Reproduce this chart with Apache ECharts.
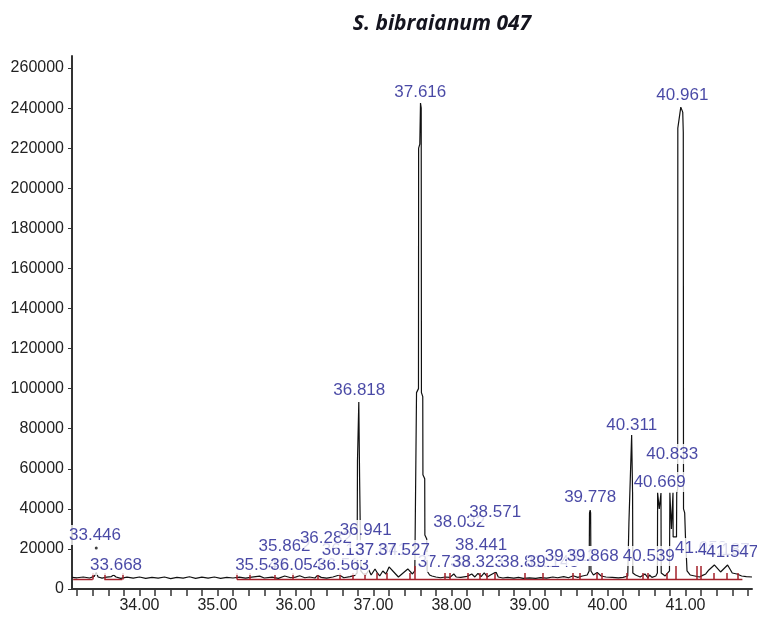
<!DOCTYPE html>
<html><head><meta charset="utf-8">
<script src="https://cdn.jsdelivr.net/npm/echarts@6/dist/echarts.min.js"></script>
<style>html,body{margin:0;padding:0;background:#fff}#c{width:757px;height:618px}</style>
</head><body><div id="c"></div>
<script>
// Chromatogram trace (retention time in min, abundance)
const traceT = [33.135,33.20,33.28,33.36,33.42,33.446,33.47,33.52,33.58,33.64,33.668,33.70,33.76,33.84,33.92,34.00,34.08,34.16,34.24,34.32,34.40,34.48,34.56,34.64,34.72,34.80,34.88,34.96,35.04,35.12,35.20,35.28,35.36,35.44,35.541,35.60,35.70,35.78,35.862,35.94,36.00,36.054,36.12,36.18,36.25,36.282,36.33,36.40,36.48,36.563,36.62,36.70,36.76,36.790,36.795,36.812,36.822,36.838,36.87,36.90,36.941,36.97,37.02,37.05,37.08,37.12,37.16,37.20,37.26,37.32,37.38,37.44,37.50,37.53,37.550,37.552,37.577,37.579,37.594,37.603,37.612,37.615,37.632,37.634,37.657,37.659,37.683,37.688,37.72,37.75,37.80,37.86,37.92,37.98,38.03,38.06,38.12,38.20,38.26,38.30,38.34,38.38,38.42,38.46,38.50,38.571,38.60,38.66,38.72,38.80,38.86,38.92,39.00,39.08,39.14,39.22,39.30,39.36,39.44,39.50,39.56,39.62,39.68,39.74,39.765,39.770,39.778,39.784,39.788,39.82,39.868,39.92,39.98,40.06,40.14,40.20,40.26,40.270,40.275,40.310,40.322,40.325,40.36,40.42,40.48,40.52,40.539,40.57,40.62,40.640,40.643,40.664,40.686,40.689,40.74,40.795,40.800,40.820,40.840,40.842,40.885,40.888,40.900,40.902,40.940,40.965,40.972,40.975,40.990,41.000,41.020,41.06,41.12,41.18,41.22,41.26,41.30,41.37,41.45,41.54,41.60,41.66,41.72,41.78,41.853];
const traceV = [5800,5600,6000,5500,6300,8200,6000,5400,5900,6200,7000,6000,5300,5900,5400,6000,5300,5800,5400,6000,5200,5800,5400,6100,5300,5900,5400,6000,5300,5800,5500,5900,5400,5900,6400,5500,5900,5300,6500,5600,5900,6600,5600,6000,5500,6800,5800,5400,6000,7000,5600,6200,6800,8000,64000,93300,56000,9000,7500,7000,9500,7000,10000,8000,6500,9000,7500,11000,8500,6000,8000,10000,7500,9000,9000,98000,100000,220000,222000,242500,240000,98000,96000,57000,55000,27000,25000,9000,7000,6500,6000,5600,6000,5800,7500,6000,5800,6300,7500,6000,7800,6200,8000,6000,7000,8500,6000,5500,5800,5400,5800,5300,5600,5300,5700,5400,6000,5600,6200,5600,6600,5800,6500,7000,9000,38000,39400,38000,9000,7000,8200,6500,6000,5800,5600,5800,6500,7000,33000,76800,48000,8000,7000,6000,7500,5500,7000,5800,6500,8000,48000,40000,47900,8000,6500,9000,48000,30000,48000,26000,26000,48000,50000,230000,240500,238000,228000,40000,38000,26000,9000,7000,6500,6000,6800,7500,9500,12000,8500,12000,8000,7500,6500,6200,6000];

// Isolated apex marker
const dotT = [33.446];
const dotV = [20500];

// Integration baseline (red)
const baseT = [33.15,33.40,33.41,33.55,33.78,33.79,35.25,41.73];
const baseV = [4800,4800,null,4800,4800,null,4800,4800];
const tickT = [33.40,33.55,33.78,35.25,35.42,35.74,35.96,36.28,36.57,36.74,36.89,37.04,37.17,37.47,37.53,37.92,37.98,38.21,38.36,38.45,38.56,38.94,39.17,39.55,39.65,39.86,39.93,40.25,40.45,40.52,40.76,40.88,41.15,41.19,41.36,41.53,41.67];
const tickTop = [8000,8000,8000,8000,8000,8000,8000,8000,8000,8000,8000,8000,8000,8000,11500,8000,8000,8000,8000,8000,8000,8000,8000,8000,8000,8000,8000,8000,8000,8000,8000,11500,11500,11500,8000,8000,8000];

// Peak labels (text, label anchor time, label anchor abundance), in drawing order
const labelText = ['33.668','35.541','36.054','36.563','37.733','38.323','38.812','39.145','33.446','39.512','39.868','40.539','41.052','41.187','41.547','36.137','37.041','37.527','35.862','38.441','36.282','36.941','38.032','38.571','39.778','40.669','40.833','40.311','36.818','40.961','37.616'];
const labelT    = [33.70,35.56,36.01,36.61,37.90,38.34,38.96,39.30,33.43,39.53,39.81,40.53,41.20,41.49,41.60,36.67,37.10,37.39,35.86,38.38,36.39,36.90,38.10,38.56,39.778,40.669,40.83,40.311,36.818,40.96,37.60];
const labelV    = [12000,12000,12000,12000,13500,13500,13500,13500,26900,16500,16500,16500,20500,19500,18500,19500,19500,19500,21500,22000,25400,29400,33400,38400,45900,53400,67400,81800,99300,246500,248000];

// Axis ticks / labels
const xTicks = [33.2,33.4,33.6,33.8,34.0,34.2,34.4,34.6,34.8,35.0,35.2,35.4,35.6,35.8,36.0,36.2,36.4,36.6,36.8,37.0,37.2,37.4,37.6,37.8,38.0,38.2,38.4,38.6,38.8,39.0,39.2,39.4,39.6,39.8,40.0,40.2,40.4,40.6,40.8,41.0,41.2,41.4,41.6,41.8];
const xLabels = [34,35,36,37,38,39,40,41];
const yTicks = [0,20000,40000,60000,80000,100000,120000,140000,160000,180000,200000,220000,240000,260000];

const chart = echarts.init(document.getElementById('c'), null, {renderer:'canvas'});
const trace = traceT.map((t,i)=>[t, traceV[i]]);
const base = baseT.map((t,i)=>[t, baseV[i]]);
const ticks = tickT.map((t,i)=>[{coord:[t, 4800]},{coord:[t, tickTop[i]]}]);
const labels = labelT.map((t,i)=>({value:[t, labelV[i]], name:labelText[i]}));

chart.setOption({
  animation:false,
  backgroundColor:'#fff',
  title:{text:'S. bibraianum 047', left:437, top:9, textAlign:'center',
    textStyle:{fontFamily:'Open Sans', fontStyle:'italic', fontWeight:'bold', fontSize:21, color:'#14141e'}},
  grid:{left:72, right:5, top:56, bottom:29, containLabel:false},
  xAxis:{type:'value', min:33.135, max:41.853,
    axisLine:{show:true, onZero:false, lineStyle:{color:'#333', width:2}},
    axisTick:{show:true, customValues:xTicks, length:7, lineStyle:{color:'#333', width:1.5}},
    axisLabel:{customValues:xLabels, formatter:v=>Number(v).toFixed(2), margin:9,
      fontFamily:'Liberation Sans', fontSize:16, color:'#222'},
    splitLine:{show:false}},
  yAxis:{type:'value', min:0, max:266000,
    axisLine:{show:true, lineStyle:{color:'#333', width:2}},
    axisTick:{show:true, customValues:yTicks, length:4, lineStyle:{color:'#333', width:1}},
    axisLabel:{customValues:yTicks, formatter:v=>String(v), margin:8, fontFamily:'Liberation Sans', fontSize:16, color:'#222'},
    splitLine:{show:false}},
  series:[
    {type:'line', data:base, symbol:'none', connectNulls:false, z:2,
      lineStyle:{color:'#a3202a', width:1.5},
      markLine:{silent:true, symbol:['none','none'], label:{show:false},
        lineStyle:{color:'#a3202a', width:1.5, type:'solid'}, data:ticks}},
    {type:'line', data:trace, symbol:'none', z:3, lineStyle:{color:'#111', width:1.2}},
    {type:'scatter', data:dotT.map((t,i)=>[t,dotV[i]]), symbolSize:3, itemStyle:{color:'#111'}, z:3},
    {type:'scatter', data:labels, symbolSize:0, z:5,
      label:{show:true, position:'inside', formatter:p=>p.name, fontFamily:'Liberation Sans', fontSize:17,
        color:'#1a1a8e', backgroundColor:'#fff', padding:[1,0,2,0], lineHeight:17}}
  ]
});
</script></body></html>
